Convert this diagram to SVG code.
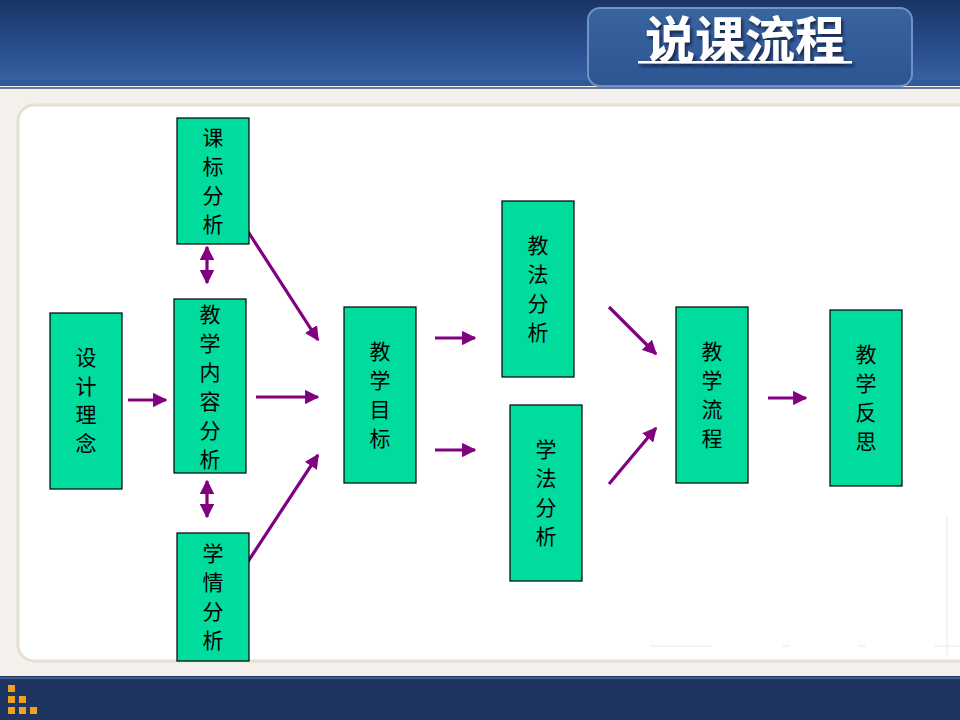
<svg xmlns="http://www.w3.org/2000/svg" width="960" height="720" viewBox="0 0 960 720">
<defs>
<linearGradient id="hdr" x1="0" y1="0" x2="0" y2="1">
<stop offset="0" stop-color="#1a3566"/>
<stop offset="0.6" stop-color="#2a5090"/>
<stop offset="1" stop-color="#3a64a4"/>
</linearGradient>
<linearGradient id="tbox" x1="0" y1="0" x2="0" y2="1">
<stop offset="0" stop-color="#3a64a0"/>
<stop offset="1" stop-color="#2c5592"/>
</linearGradient>
<filter id="sh" x="-10%" y="-20%" width="130%" height="150%">
<feDropShadow dx="2" dy="3" stdDeviation="1.5" flood-color="#0a1a3a" flood-opacity="0.8"/>
</filter>
<marker id="ah" viewBox="0 0 10 10" refX="9" refY="5" markerWidth="4.5" markerHeight="4.5" orient="auto-start-reverse">
<path d="M0,0 L10,5 L0,10 z" fill="#800080"/>
</marker>
</defs>
<style>
.node rect{fill:#00dc9e;stroke:#000;stroke-width:1.2}
.node text{font-family:"Noto Sans CJK SC","Noto Sans CJK JP",serif;font-size:21px;fill:#000;text-anchor:middle}
.conn line{stroke:#800080;stroke-width:3.2;marker-end:url(#ah)}
.conn line.both{marker-start:url(#ah)}
</style>
<rect x="0" y="0" width="960" height="720" fill="#f4f1ec"/>
<rect x="0" y="0" width="960" height="86" fill="url(#hdr)"/>
<rect x="0" y="80" width="960" height="6" fill="#2f5a9a"/>
<line x1="0" y1="88" x2="960" y2="88" stroke="#3b4f77" stroke-width="1.5"/>
<rect x="588" y="8" width="324" height="78" rx="12" fill="url(#tbox)" stroke="#6f93c6" stroke-width="2"/>
<g id="title" filter="url(#sh)">
<text x="745" y="58" font-family="Noto Sans CJK SC, sans-serif" font-weight="bold" font-size="50" fill="#ffffff" text-anchor="middle">说课流程</text>
<rect x="638" y="61" width="214" height="2.5" fill="#ffffff"/>
</g>
<rect x="18" y="105" width="960" height="556" rx="16" fill="#ffffff" stroke="#e6e0d2" stroke-width="3"/>
<g stroke="#ece8dd" stroke-width="1">
<line x1="650" y1="646" x2="712" y2="646"/>
<line x1="782" y1="646" x2="790" y2="646"/>
<line x1="858" y1="646" x2="866" y2="646"/>
<line x1="934" y1="646" x2="960" y2="646"/>
<line x1="947" y1="515" x2="947" y2="655"/>
</g>
<rect x="0" y="676" width="960" height="44" fill="#1e3561"/>
<line x1="0" y1="678" x2="960" y2="678" stroke="#3c5a8c" stroke-width="2"/>
<g fill="#f0a020">
<rect x="8" y="685" width="7" height="7"/>
<rect x="8" y="696" width="7" height="7"/>
<rect x="19" y="696" width="7" height="7"/>
<rect x="8" y="707" width="7" height="7"/>
<rect x="19" y="707" width="7" height="7"/>
<rect x="30" y="707" width="7" height="7"/>
</g>
<g id="connectors" class="conn">
<line x1="128" y1="400" x2="166" y2="400"/>
<line class="both" x1="207" y1="247" x2="207" y2="283"/>
<line class="both" x1="207" y1="481" x2="207" y2="517"/>
<line x1="247" y1="230" x2="318" y2="340"/>
<line x1="256" y1="397" x2="318" y2="397"/>
<line x1="247" y1="563" x2="318" y2="455"/>
<line x1="435" y1="338" x2="475" y2="338"/>
<line x1="435" y1="450" x2="475" y2="450"/>
<line x1="609" y1="307" x2="656" y2="354"/>
<line x1="609" y1="484" x2="656" y2="428"/>
<line x1="768" y1="398" x2="806" y2="398"/>
</g>
<g id="n-sheji" class="node"><rect x="50" y="313" width="72" height="176"/><text><tspan x="86" y="365">设</tspan><tspan x="86" y="394">计</tspan><tspan x="86" y="422">理</tspan><tspan x="86" y="451">念</tspan></text></g>
<g id="n-kebiao" class="node"><rect x="177" y="118" width="72" height="126"/><text><tspan x="213" y="145">课</tspan><tspan x="213" y="174">标</tspan><tspan x="213" y="203">分</tspan><tspan x="213" y="232">析</tspan></text></g>
<g id="n-neirong" class="node"><rect x="174" y="299" width="72" height="174"/><text><tspan x="210" y="322">教</tspan><tspan x="210" y="351">学</tspan><tspan x="210" y="380">内</tspan><tspan x="210" y="409">容</tspan><tspan x="210" y="438">分</tspan><tspan x="210" y="467">析</tspan></text></g>
<g id="n-xueqing" class="node"><rect x="177" y="533" width="72" height="128"/><text><tspan x="213" y="561">学</tspan><tspan x="213" y="590">情</tspan><tspan x="213" y="619">分</tspan><tspan x="213" y="648">析</tspan></text></g>
<g id="n-mubiao" class="node"><rect x="344" y="307" width="72" height="176"/><text><tspan x="380" y="359">教</tspan><tspan x="380" y="388">学</tspan><tspan x="380" y="417">目</tspan><tspan x="380" y="446">标</tspan></text></g>
<g id="n-jiaofa" class="node"><rect x="502" y="201" width="72" height="176"/><text><tspan x="538" y="253">教</tspan><tspan x="538" y="282">法</tspan><tspan x="538" y="311">分</tspan><tspan x="538" y="340">析</tspan></text></g>
<g id="n-xuefa" class="node"><rect x="510" y="405" width="72" height="176"/><text><tspan x="546" y="457">学</tspan><tspan x="546" y="486">法</tspan><tspan x="546" y="515">分</tspan><tspan x="546" y="544">析</tspan></text></g>
<g id="n-liucheng" class="node"><rect x="676" y="307" width="72" height="176"/><text><tspan x="712" y="359">教</tspan><tspan x="712" y="388">学</tspan><tspan x="712" y="417">流</tspan><tspan x="712" y="446">程</tspan></text></g>
<g id="n-fansi" class="node"><rect x="830" y="310" width="72" height="176"/><text><tspan x="866" y="362">教</tspan><tspan x="866" y="391">学</tspan><tspan x="866" y="420">反</tspan><tspan x="866" y="449">思</tspan></text></g>
</svg>
